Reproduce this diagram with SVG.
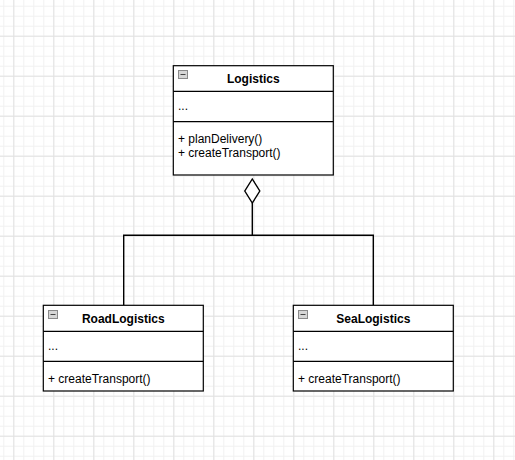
<svg xmlns="http://www.w3.org/2000/svg" width="515" height="460" viewBox="0 0 515 460">
<defs>
<pattern id="minor" x="3.3" y="5.7" width="10" height="10" patternUnits="userSpaceOnUse">
<path d="M0 0.5H10M0.5 0V10" fill="none" stroke="#f1f1f1" stroke-width="1"/>
</pattern>
<pattern id="major" x="13.3" y="35.7" width="40" height="40" patternUnits="userSpaceOnUse">
<path d="M0 0.5H40M0.5 0V40" fill="none" stroke="#e2e2e2" stroke-width="1"/>
</pattern>
<g id="icon">
<rect x="0.5" y="0.5" width="9" height="8" fill="#d6d6d6" stroke="#8a8a8a" stroke-width="1"/>
<line x1="2.5" y1="4.5" x2="7.5" y2="4.5" stroke="#444" stroke-width="1"/>
</g>
</defs>
<style>
.box{fill:#ffffff;stroke:#000;stroke-width:1.2}
.div{stroke:#000;stroke-width:1.2}
.title{font-family:"Liberation Sans",Arial,sans-serif;font-size:12px;font-weight:bold;text-anchor:middle;fill:#000}
.txt{font-family:"Liberation Sans",Arial,sans-serif;font-size:12px;fill:#000}
.edge{fill:none;stroke:#000;stroke-width:1.4}
</style>
<rect width="515" height="460" fill="#ffffff"/>
<rect width="515" height="460" fill="url(#minor)"/>
<rect width="515" height="460" fill="url(#major)"/>

<g id="connectors">
<path class="edge" d="M252.3 203V235.3M123.7 305.3V235.3H373.3V305.3"/>
<path class="edge" d="M252.3 179L259.8 191L252.3 203L244.8 191Z" fill="#fff" style="fill:#fff"/>
</g>

<g id="Logistics">
<rect class="box" x="173.3" y="65.7" width="160" height="109.3"/>
<line class="div" x1="173.3" y1="91.3" x2="333.3" y2="91.3"/>
<line class="div" x1="173.3" y1="121.7" x2="333.3" y2="121.7"/>
<use href="#icon" x="178" y="70"/>
<text class="title" x="253.3" y="83">Logistics</text>
<text class="txt" x="178" y="110">...</text>
<text class="txt" x="178" y="142.5">+ planDelivery()</text>
<text class="txt" x="178" y="157">+ createTransport()</text>
</g>

<g id="RoadLogistics">
<rect class="box" x="43.3" y="305.3" width="160" height="85.7"/>
<line class="div" x1="43.3" y1="331.3" x2="203.3" y2="331.3"/>
<line class="div" x1="43.3" y1="361.3" x2="203.3" y2="361.3"/>
<use href="#icon" x="48" y="310"/>
<text class="title" x="123.3" y="323">RoadLogistics</text>
<text class="txt" x="48" y="350">...</text>
<text class="txt" x="48" y="383">+ createTransport()</text>
</g>

<g id="SeaLogistics">
<rect class="box" x="293.3" y="305.3" width="160" height="85.7"/>
<line class="div" x1="293.3" y1="331.3" x2="453.3" y2="331.3"/>
<line class="div" x1="293.3" y1="361.3" x2="453.3" y2="361.3"/>
<use href="#icon" x="298" y="310"/>
<text class="title" x="373.3" y="323">SeaLogistics</text>
<text class="txt" x="298" y="350">...</text>
<text class="txt" x="298" y="383">+ createTransport()</text>
</g>
</svg>
